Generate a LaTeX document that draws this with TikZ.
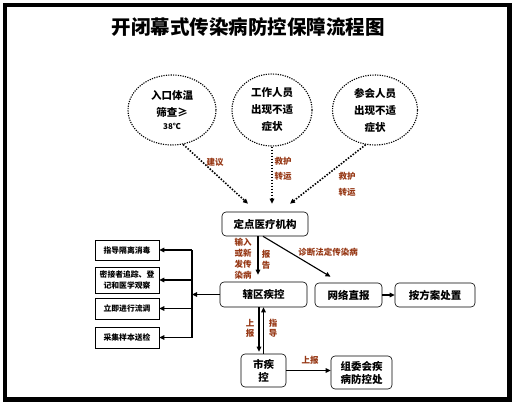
\documentclass[tikz,border=0pt]{standalone}
\usepackage{fontspec}
\setmainfont{Noto Sans CJK SC}
\usetikzlibrary{shapes.geometric,arrows.meta}
\definecolor{lbred}{RGB}{150,55,20}

\begin{document}
\begin{tikzpicture}[x=1pt,y=-1pt
	,bx/.style={
	draw
	,rounded corners=4pt
	,line width=0.6pt
	,inner sep=0
	,align=center
	,font=\bfseries\fontsize{10.5}{13}\selectfont
}
	,sq/.style={
	draw
	,line width=0.6pt
	,inner sep=0
	,minimum width=64pt
	,align=center
	,font=\bfseries\fontsize{7.8}{11}\selectfont
}
	,cir/.style={
	ellipse
	,draw
	,dash pattern=on 1.2pt off 1.2pt
	,line width=1.1pt
	,inner sep=0
	,align=center
	,font=\bfseries\fontsize{10.5}{17}\selectfont
}
	,lb/.style={
	text=lbred
	,inner sep=0
	,align=center
	,font=\bfseries\fontsize{8.5}{11}\selectfont
}
	,ar/.style={-{Triangle[length=5pt,width=4.5pt]}, line width=1.1pt}
	,dar/.style={ar, dash pattern=on 1.5pt off 1.5pt, line width=1.6pt}
]

\useasboundingbox (0,0) rectangle (532,409);
\draw[line width=4.5pt] (5,5) rectangle (509.5,399.5);

\node[inner sep=0, font=\bfseries\fontsize{19.5}{22}\selectfont](title) at(248,27) {开闭幕式传染病防控保障流程图};

\node[cir, minimum width=88pt, minimum height=70pt](c1) at(172,110)
	{入口体温\\筛查≥\\[-4pt]{\fontsize{8}{10}\selectfont 38℃}};
\node[cir, minimum width=80pt, minimum height=72pt](c2) at(272,110) {工作人员\\出现不适\\症状};
\node[cir, minimum width=85pt, minimum height=70pt](c3) at(375,110) {参会人员\\出现不适\\症状};

\node[bx, minimum width=86pt, minimum height=24pt](d) at(265,224) {定点医疗机构};
\node[bx, minimum width=87pt, minimum height=25pt](x) at(263.5,294.5) {辖区疾控};
\node[bx, minimum width=67pt, minimum height=24pt](w) at(348.5,295) {网络直报};
\node[bx, minimum width=80pt, minimum height=24pt](p) at(435,295) {按方案处置};
\node[bx, minimum width=45pt, minimum height=33pt](s) at(263.5,370.5) {市疾\\控};
\node[bx, minimum width=61pt, minimum height=33pt](z) at(361.5,372.5) {组委会疾\\病防控处};

\node[sq, minimum height=20pt](b1) at(127,250) {指导隔离消毒};
\node[sq, minimum height=26pt](b2) at(127,280) {密接者追踪、登\\记和医学观察};
\node[sq, minimum height=21pt](b3) at(127,308.5) {立即进行流调};
\node[sq, minimum height=21pt](b4) at(127,337.5) {采集样本送检};

\coordinate(j) at(192,294.5);
\coordinate(jt) at(192,250);
\coordinate(jb) at(192,337.5);

\draw[dar] (c1.-72) -- ([xshift=-17pt,yshift=8pt]d.north);
\draw[dar] (c2.south) -- ([xshift=7pt,yshift=8pt]d.north);
\draw[dar] (c3.-105) -- ([xshift=25pt,yshift=8pt]d.north);

\node[lb](l1) at(215,162) {建议};
\node[lb, font=\bfseries\fontsize{8.5}{15}\selectfont](l2) at(283,169) {救护\\转运};
\node[lb, font=\bfseries\fontsize{8.5}{16}\selectfont](l3) at(347,184) {救护\\转运};

\draw[ar] ([xshift=-7pt]d.south) -- ([xshift=-5.5pt,yshift=7pt]x.north);
\draw[ar] ([xshift=-2pt]d.south) -- ([xshift=-18pt,yshift=6pt]w.north);
\node[lb](l4) at(243,258.5) {输入\\或新\\发传\\染病};
\node[lb](l5) at(266,260) {报\\告};
\node[lb](l6) at(328,252) {诊断法定传染病};

\draw[ar] (w) -- (p);

\draw[ar] (x.west) -- (j);
\draw[line width=1.1pt] (jt) -- (jb);
\foreach \i in {1,...,4}{
	\draw[ar] (b\i.east -| j) -- (b\i.east);
}

\draw[ar] ([xshift=-4.5pt]x.south) -- ([xshift=-4.5pt,yshift=2pt]s.north);
\draw[ar] ([xshift=0pt]s.north) -- ([xshift=0pt]x.south);
\node[lb, font=\bfseries\fontsize{8.5}{10}\selectfont](l7) at(250,328.5) {上\\报};
\node[lb, font=\bfseries\fontsize{8.5}{10}\selectfont](l8) at(273,328.5) {指\\导};

\draw[ar] (s.east) -- (s.east -| z.west);
\node[lb](l9) at(310,360) {上报};

\end{tikzpicture}
\end{document}
